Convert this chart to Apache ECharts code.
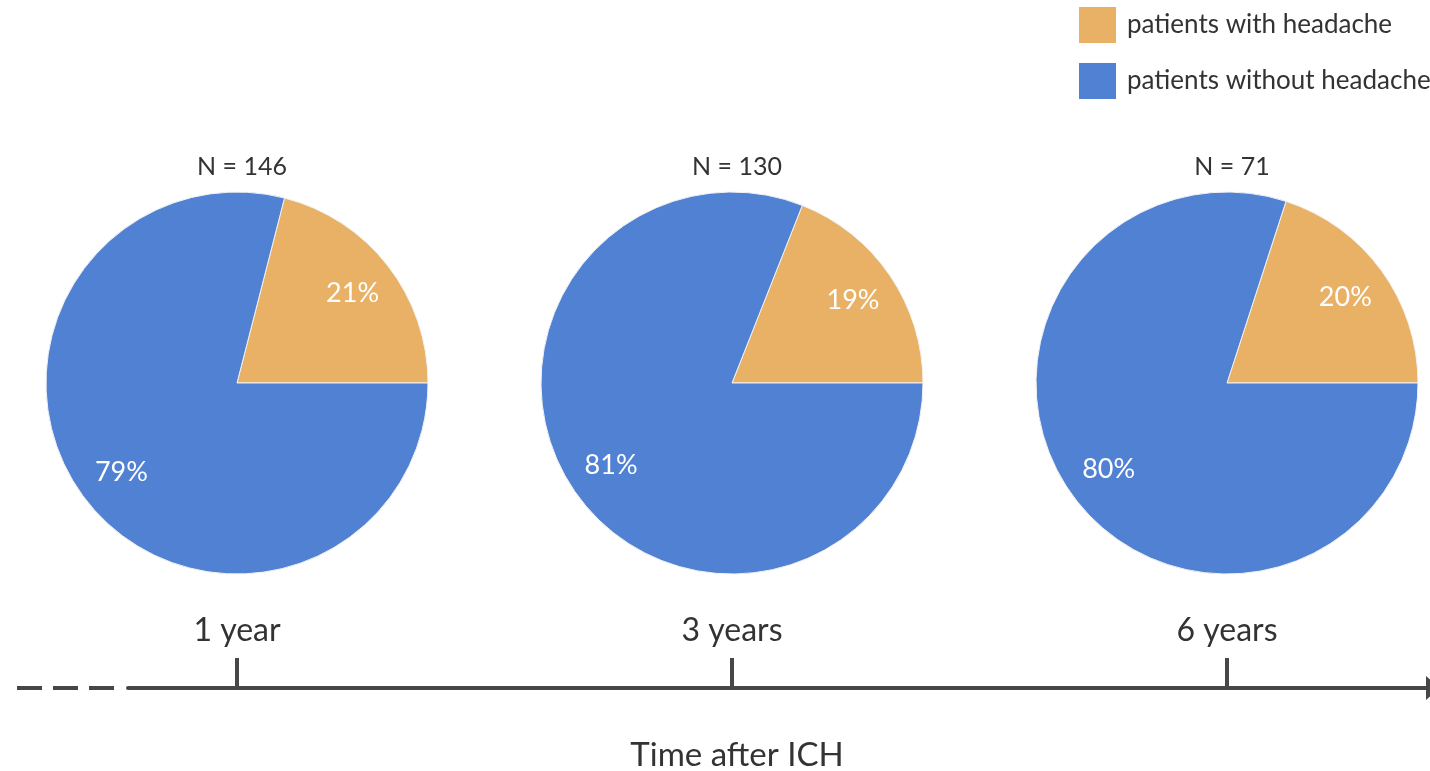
<!DOCTYPE html>
<html>
<head>
<meta charset="utf-8">
<style>
  html, body { margin: 0; padding: 0; background: #ffffff; }
  #chart { width: 1430px; height: 771px; }
</style>
<script src="https://cdn.jsdelivr.net/npm/echarts@6/dist/echarts.min.js"></script>
</head>
<body>
<div id="chart"></div>
<script>
// Follow-up time points and cohort sizes
const periods = ['1 year', '3 years', '6 years'];
const sampleSizes = [146, 130, 71];
// Share of patients (%) at each time point
const withHeadache = [21, 19, 20];
const withoutHeadache = [79, 81, 80];
const seriesNames = ['patients with headache', 'patients without headache'];
const axisTitle = 'Time after ICH';

const ORANGE = '#E8B166';
const BLUE = '#5181D3';
const INK = '#333333';
const AXIS_INK = '#474747';
const FONT = 'Lato';

// Timeline layout (pixels): first tick, tick spacing, axis extent, baseline
const tick0 = 237, tickStep = 495;
const axisLeft = 128, axisRight = 1430, axisY = 688;
const toUnit = px => (px - tick0) / tickStep;

const chart = echarts.init(document.getElementById('chart'), null, { renderer: 'canvas' });

chart.setOption({
  animation: false,
  backgroundColor: '#ffffff',
  textStyle: { fontFamily: FONT },
  legend: {
    orient: 'vertical',
    left: 1074,
    top: 2,
    itemWidth: 37,
    itemHeight: 36,
    itemGap: 20,
    icon: 'rect',
    selectedMode: false,
    textStyle: { fontFamily: FONT, fontSize: 26, lineHeight: 36, color: INK, padding: [0, 0, 0, 6] },
    data: [
      { name: seriesNames[0], itemStyle: { color: ORANGE, borderWidth: 0 } },
      { name: seriesNames[1], itemStyle: { color: BLUE, borderWidth: 0 } }
    ]
  },
  grid: { left: axisLeft, right: 1430 - axisRight, top: 600, bottom: 771 - axisY },
  xAxis: {
    type: 'value',
    min: toUnit(axisLeft),
    max: toUnit(axisRight),
    splitLine: { show: false },
    axisLine: {
      show: true,
      symbol: ['none', 'triangle'],
      symbolSize: [24, 14],
      symbolOffset: [0, 3],
      lineStyle: { color: AXIS_INK, width: 4 }
    },
    axisTick: {
      show: true,
      inside: true,
      length: 30,
      customValues: [0, 1, 2],
      lineStyle: { color: AXIS_INK, width: 4 }
    },
    axisLabel: {
      show: true,
      inside: true,
      margin: 41,
      customValues: [0, 1, 2],
      formatter: v => periods[Math.round(v)],
      fontFamily: FONT,
      fontSize: 32,
      color: INK
    }
  },
  yAxis: { type: 'value', show: false, min: 0, max: 1 },
  // Dashed lead-in before the solid timeline
  graphic: [{
    type: 'line',
    silent: true,
    shape: { x1: 17, y1: axisY, x2: 114, y2: axisY },
    style: { stroke: AXIS_INK, lineWidth: 4, lineDash: [25, 11], lineCap: 'butt' }
  }]
});

// Pie centres follow the timeline ticks
const centers = periods.map((_, i) => chart.convertToPixel({ xAxisIndex: 0 }, i));
const R = 191, CY = 383;

const titles = sampleSizes.map((n, i) => ({
  text: 'N = ' + n,
  left: centers[i],
  top: 149,
  textAlign: 'center',
  textStyle: { fontFamily: FONT, fontSize: 25, fontWeight: 'normal', color: INK }
}));
titles.push({
  text: axisTitle,
  left: centers[1],
  top: 734,
  textAlign: 'center',
  textStyle: { fontFamily: FONT, fontSize: 33, fontWeight: 'normal', color: INK }
});

const pieData = i => [
  { name: seriesNames[0], value: withHeadache[i], itemStyle: { color: ORANGE } },
  { name: seriesNames[1], value: withoutHeadache[i], itemStyle: { color: BLUE } }
];

const pies = [];
periods.forEach((p, i) => {
  pies.push({
    type: 'pie',
    center: [centers[i], CY],
    radius: [0, R],
    startAngle: 0,
    clockwise: false,
    silent: true,
    label: { show: false },
    labelLine: { show: false },
    itemStyle: { borderColor: '#f2f2f2', borderWidth: 1 },
    data: pieData(i)
  });
  // Percentage labels sit on a transparent ring so they land at 3/4 radius
  pies.push({
    type: 'pie',
    center: [centers[i], CY],
    radius: [R / 2, R],
    startAngle: 0,
    clockwise: false,
    silent: true,
    itemStyle: { color: 'transparent', borderWidth: 0 },
    label: {
      show: true,
      position: 'inside',
      formatter: d => d.value + '%',
      fontFamily: FONT,
      fontSize: 27,
      color: '#ffffff'
    },
    labelLine: { show: false },
    data: pieData(i).map(d => ({ name: d.name, value: d.value, itemStyle: { color: 'transparent' } }))
  });
});

chart.setOption({ title: titles, series: pies });
</script>
</body>
</html>
